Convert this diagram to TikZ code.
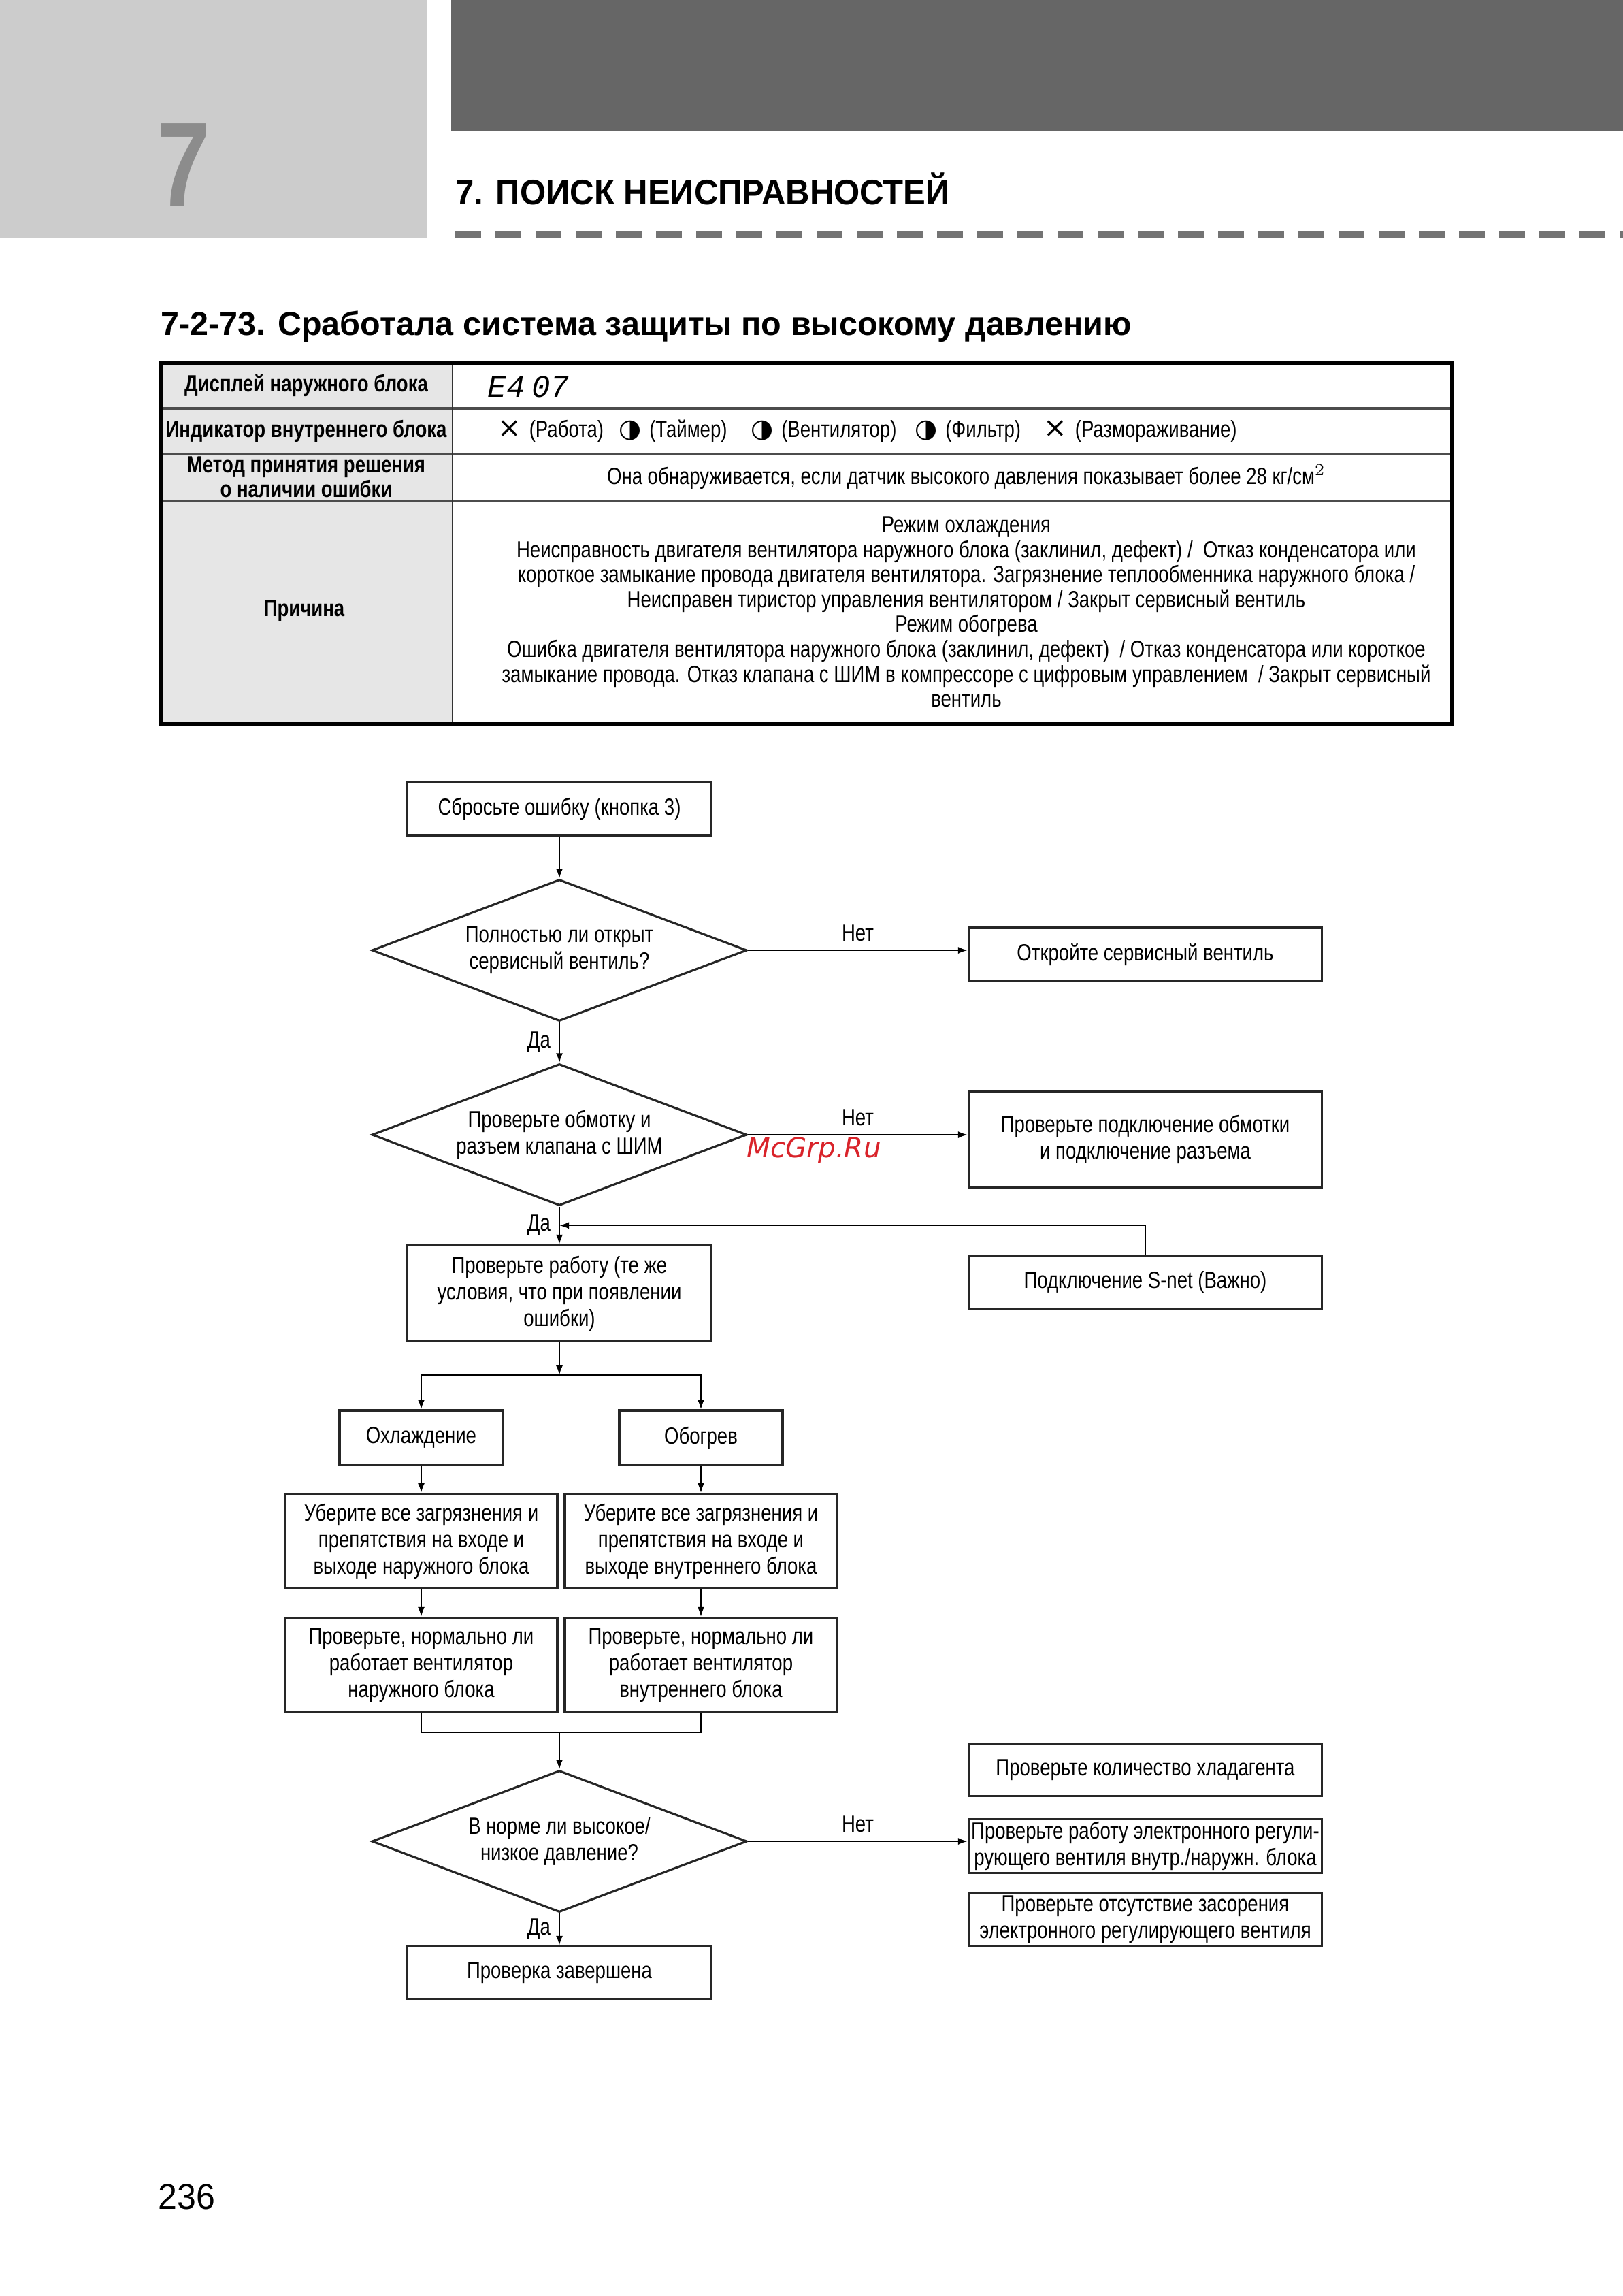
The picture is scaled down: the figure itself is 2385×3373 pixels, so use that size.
\documentclass[tikz,border=0pt]{standalone}
\usepackage{fontspec}
\setmainfont{Liberation Sans}[FakeStretch=0.8]
\newfontfamily\headfont{Liberation Sans}[FakeStretch=0.95]
\newfontfamily\secfont{Liberation Sans}
\newfontfamily\symfont{DejaVu Sans}
\newfontfamily\lcdfont{Liberation Mono}
\newfontfamily\wmfont{DejaVu Sans}
\usetikzlibrary{positioning,arrows.meta,shapes.geometric,calc}

\definecolor{panelgray}{HTML}{CCCCCC}
\definecolor{bargray}{HTML}{666666}
\definecolor{cellgray}{HTML}{E6E6E6}
\definecolor{wmred}{HTML}{D9232A}

\newcommand{\flowfont}{\fontsize{9.8}{11.1}\selectfont}
\newcommand{\tabfont}{\fontsize{9.8}{10.4}\selectfont}
\newcommand{\crossmark}{\scalebox{1.2}{\symfont ×}}
\newcommand{\halfmark}{\scalebox{1.1}{\symfont ◑}}

\begin{document}
\begin{tikzpicture}[x=0.1mm, y=-0.1mm,
  box/.style={rectangle, draw=black!85, line width=0.9pt,
    inner sep=1pt, align=center, font=\flowfont},
  wbox/.style={box, minimum width=44.7mm},
  rbox/.style={box, minimum width=51.9mm},
  mbox/.style={box, minimum width=40mm, minimum height=13.9mm},
  sbox/.style={box, minimum width=24mm, minimum height=8mm},
  decision/.style={diamond, aspect=2.65, draw=black!85, line width=0.9pt,
    minimum width=55.1mm, minimum height=20.8mm, inner sep=0pt,
    align=center, font=\flowfont},
  arr/.style={-{Latex[length=1.4mm,width=1mm]}, line width=0.6pt},
  wire/.style={line width=0.6pt},
  lbl/.style={font=\flowfont, inner sep=1.2mm},
  cell/.style={font=\tabfont, inner sep=0pt, align=center},
  head/.style={font=\tabfont\bfseries, inner sep=0pt, align=center}
]
\useasboundingbox (0,0) rectangle (2385,3373);

% Page header
\fill[panelgray] (0,0) rectangle (628,350);
\fill[bargray] (663,0) rectangle (2385,192);
\node[anchor=base, inner sep=0pt, text=black!45,
  font=\fontsize{50}{50}\selectfont\bfseries] (chapnum) at (270,302) {7};
\node[anchor=base west, inner sep=0pt,
  font=\headfont\fontsize{14.7}{16}\selectfont\bfseries] (chaptitle) at (669,300)
  {7. ПОИСК НЕИСПРАВНОСТЕЙ};
\draw[black!55, line width=1mm, dash pattern=on 3.8mm off 2.1mm] (669,345) -- (2385,345);
\node[anchor=base west, inner sep=0pt,
  font=\secfont\fontsize{13.8}{15}\selectfont\bfseries] (sectitle) at (236,492)
  {7-2-73. Сработала система защиты по высокому давлению};

% Table
\fill[cellgray] (236,533) rectangle (665,1063);
\draw[black!70, line width=1pt] (236,600) -- (2134,600);
\draw[black!70, line width=1pt] (236,667) -- (2134,667);
\draw[black!70, line width=1pt] (236,736) -- (2134,736);
\draw[black!80, line width=0.6pt] (665,533) -- (665,1063);
\draw[line width=1.5pt] (236,533) rectangle (2134,1063);

\node[head] (hdisp) at (450,566) {Дисплей наружного блока};
\node[anchor=west, inner sep=0pt, font=\lcdfont\itshape\fontsize{13}{13}\selectfont]
  (vdisp) at (716,568) {E4\hspace{1mm}07};
\node[head] (hind) at (450,633) {Индикатор внутреннего блока};
\node[cell, anchor=base west] (ind1) at (731,642) {\crossmark\,\,(Работа)};
\node[cell, anchor=base west] (ind2) at (909,642) {\halfmark\,\,(Таймер)};
\node[cell, anchor=base west] (ind3) at (1103,642) {\halfmark\,\,(Вентилятор)};
\node[cell, anchor=base west] (ind4) at (1344,642) {\halfmark\,\,(Фильтр)};
\node[cell, anchor=base west] (ind5) at (1533,642) {\crossmark\,\,(Размораживание)};
\node[head, font=\fontsize{9.8}{8}\selectfont\bfseries] (hmeth) at (450,701)
  {Метод принятия решения\\о наличии ошибки};
\node[cell] (vmeth) at (1420,701)
  {Она обнаруживается, если датчик высокого давления показывает более 28 кг/см$^2$};
\node[head] (hcause) at (447,897) {Причина};
\node[cell] (vcause) at (1420,899)
  {Режим охлаждения\\
   Неисправность двигателя вентилятора наружного блока (заклинил, дефект) /\ \ Отказ конденсатора или\\
   короткое замыкание провода двигателя вентилятора. Загрязнение теплообменника наружного блока /\\
   Неисправен тиристор управления вентилятором / Закрыт сервисный вентиль\\
   Режим обогрева\\
   Ошибка двигателя вентилятора наружного блока (заклинил, дефект)\ \ / Отказ конденсатора или короткое\\
   замыкание провода. Отказ клапана с ШИМ в компрессоре с цифровым управлением\ \ / Закрыт сервисный\\
   вентиль};

% Flowchart
\node[wbox, minimum height=7.8mm] (reset) at (822,1188) {Сбросьте ошибку (кнопка 3)};
\node[decision] (q1) at (822,1396) {Полностью ли открыт\\сервисный вентиль?};
\node[rbox, minimum height=7.8mm] (open) at (1683,1402) {Откройте сервисный вентиль};
\node[decision] (q2) at (822,1667) {Проверьте обмотку и\\разъем клапана с ШИМ};
\node[rbox, minimum height=14mm] (wirechk) at (1683,1674)
  {Проверьте подключение обмотки\\и подключение разъема};
\node[wbox, minimum height=14.1mm] (check) at (822,1900)
  {Проверьте работу (те же\\условия, что при появлении\\ошибки)};
\node[rbox, minimum height=7.8mm] (snet) at (1683,1884) {Подключение S-net (Важно)};
\node[sbox] (cool) at (619,2112) {Охлаждение};
\node[sbox] (heat) at (1030,2112) {Обогрев};
\node[mbox] (cleanout) at (619,2264)
  {Уберите все загрязнения и\\препятствия на входе и\\выходе наружного блока};
\node[mbox] (cleanin) at (1030,2264)
  {Уберите все загрязнения и\\препятствия на входе и\\выходе внутреннего блока};
\node[mbox] (fanout) at (619,2446)
  {Проверьте, нормально ли\\работает вентилятор\\наружного блока};
\node[mbox] (fanin) at (1030,2446)
  {Проверьте, нормально ли\\работает вентилятор\\внутреннего блока};
\node[decision] (q3) at (822,2705) {В норме ли высокое/\\низкое давление?};
\node[rbox, minimum height=7.7mm] (gas) at (1683,2600) {Проверьте количество хладагента};
\node[rbox, minimum height=7.6mm] (eev) at (1683,2712)
  {Проверьте работу электронного регули-\\рующего вентиля внутр./наружн. блока};
\node[rbox, minimum height=7.8mm] (clog) at (1683,2820)
  {Проверьте отсутствие засорения\\электронного регулирующего вентиля};
\node[wbox, minimum height=7.7mm] (done) at (822,2898) {Проверка завершена};

\coordinate (split) at ($(check.south)+(0,48)$);
\coordinate (merge) at ($(fanout.south -| check.south)+(0,28)$);

% Edges
\draw[arr] (reset) -- (q1);
\draw[arr] (q1.east) -- node[lbl, above] (no1) {Нет} (q1.east -| open.west);
\draw[arr] (q1) -- node[lbl, left] (yes1) {Да} (q2);
\draw[arr] (q2.east) -- node[lbl, above] (no2) {Нет} (q2.east -| wirechk.west);
\draw[arr] (q2) -- node[lbl, left] (yes2) {Да} (check);
\draw[arr] (snet.north) |- ($(q2.south)!0.5!(check.north)$);
\draw[arr] (check) -- (split);
\draw[arr] (split) -| (cool.north);
\draw[arr] (split) -| (heat.north);
\draw[arr] (cool) -- (cleanout);
\draw[arr] (heat) -- (cleanin);
\draw[arr] (cleanout) -- (fanout);
\draw[arr] (cleanin) -- (fanin);
\draw[wire] (fanout.south) |- (merge) -| (fanin.south);
\draw[arr] (merge) -- (q3);
\draw[arr] (q3.east) -- node[lbl, above] (no3) {Нет} (q3.east -| eev.west);
\draw[arr] (q3) -- node[lbl, left] (yes3) {Да} (done);

\node[text=wmred, font=\wmfont\itshape\fontsize{11.5}{11.5}\selectfont] (watermark) at (1196,1690) {McGrp.Ru};

% Page number
\node[anchor=base west, inner sep=0pt, font=\headfont\fontsize{15}{15}\selectfont]
  (pagenum) at (232,3245) {236};
\end{tikzpicture}
\end{document}
